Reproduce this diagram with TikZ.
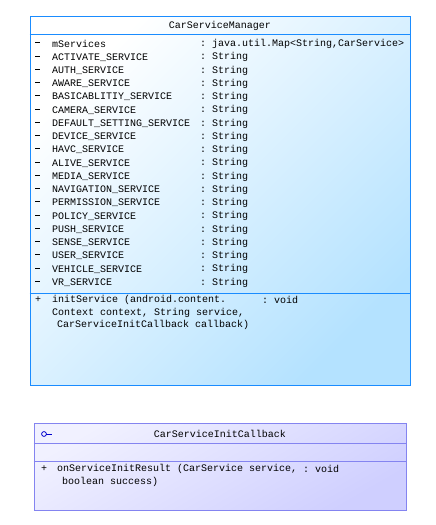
\documentclass[tikz,border=0pt]{standalone}
\usepackage{fontspec}
\setmonofont{Liberation Mono}
\definecolor{mgrline}{HTML}{1A8CFF}
\definecolor{mgrfill}{HTML}{B4E2FF}
\definecolor{cbline}{HTML}{8484F0}
\definecolor{cbfill}{HTML}{CFCFFF}
\definecolor{ifblue}{HTML}{0000CC}

\begin{document}
\begin{tikzpicture}[x=1pt,y=-1pt]

\tikzstyle{every node}=[font=\ttfamily\fontsize{10}{12}\selectfont, inner sep=0pt]
\tikzstyle{row}=[anchor=west]
\newcommand{\vis}{\rule[2.6pt]{5pt}{0.9pt}}

\useasboundingbox (0,0) rectangle (436,525);

% CarServiceManager class
\node (manager) at (220,200.5) [draw=mgrline, line width=1pt,
	minimum width=380pt, minimum height=369pt,
	top color=white, bottom color=mgrfill, shading angle=45] {};
\node (mgrtitle) at (220,25.5) {CarServiceManager};
\draw[mgrline, line width=0.8pt]
			([yshift=-19pt]manager.north west)
	-- 	([yshift=-19pt]manager.north east);
\draw[mgrline, line width=0.8pt]
			([yshift=-278pt]manager.north west)
	-- 	([yshift=-278pt]manager.north east);

\node (m0) at (35,44) [row] {\vis};
\node at (52,44) [row] {mServices};
\node at (200,44) [row] {:};
\node at (212,44) [row] {java.util.Map<String,CarService>};
\foreach \fname [count=\i] in {ACTIVATE\_SERVICE, AUTH\_SERVICE,
		AWARE\_SERVICE, BASICABLITIY\_SERVICE, CAMERA\_SERVICE,
		DEFAULT\_SETTING\_SERVICE, DEVICE\_SERVICE, HAVC\_SERVICE,
		ALIVE\_SERVICE, MEDIA\_SERVICE, NAVIGATION\_SERVICE,
		PERMISSION\_SERVICE, POLICY\_SERVICE, PUSH\_SERVICE,
		SENSE\_SERVICE, USER\_SERVICE, VEHICLE\_SERVICE, VR\_SERVICE}
{
	\node (m\i) at (35,44+13.25*\i) [row] {\vis};
	\node at (52,44+13.25*\i) [row] {\fname};
	\node at (200,44+13.25*\i) [row] {:};
	\node at (212,44+13.25*\i) [row] {String};
}

\node (init) at (35,300) [row] {+};
\node at (52,300) [row] {initService (android.content.};
\node at (262,300) [row] {: void};
\node at (52,313) [row] {Context context, String service,};
\node at (57,325) [row] {CarServiceInitCallback callback)};

% CarServiceInitCallback interface
\node (callback) at (220,466.5) [draw=cbline, line width=1pt,
	minimum width=372pt, minimum height=87pt,
	top color=cbfill!30, bottom color=cbfill, shading angle=30] {};
\node (cbtitle) at (220,434) {CarServiceInitCallback};
\draw[ifblue, line width=0.8pt] (44,434) circle (2.4pt);
\draw[ifblue, line width=0.8pt] (46.4,434) -- (52,434);
\draw[cbline, line width=0.8pt]
			([yshift=-21pt]callback.north west)
	-- 	([yshift=-21pt]callback.north east);
\draw[cbline, line width=0.8pt]
			([yshift=-39pt]callback.north west)
	-- 	([yshift=-39pt]callback.north east);

\node (result) at (41,469) [row] {+};
\node at (57,469) [row] {onServiceInitResult (CarService service,};
\node at (303,469) [row] {: void};
\node at (62,482) [row] {boolean success)};

\end{tikzpicture}
\end{document}
